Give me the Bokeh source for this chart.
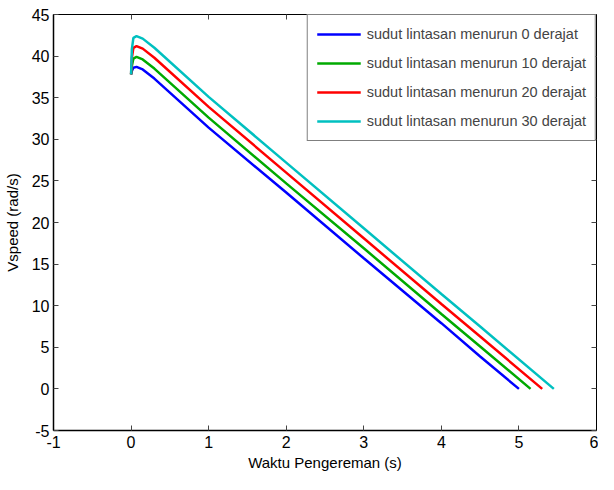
from bokeh.plotting import figure
from bokeh.embed import file_html
from bokeh.resources import INLINE
from bokeh.models import LinearAxis, FixedTicker, Legend, LegendItem, Range1d

# ---- data ----
t_0 = [0, 0.01, 0.03, 0.07, 0.15, 0.3, 1, 2, 3, 4, 4.5, 5.0]
v_0 = [37.8, 38.2, 38.6, 38.7, 38.4, 37.3, 31.4, 23.6, 15.7, 7.9, 3.9, 0]
t_10 = [0, 0.01, 0.03, 0.07, 0.15, 0.3, 1, 2, 3, 4, 4.5, 5.15]
v_10 = [37.8, 38.8, 39.7, 39.9, 39.6, 38.5, 32.6, 24.7, 16.9, 9.0, 5.1, 0]
t_20 = [0, 0.01, 0.03, 0.07, 0.15, 0.3, 1, 2, 3, 4, 4.5, 5.3]
v_20 = [37.8, 39.8, 41.0, 41.2, 40.9, 39.8, 33.9, 26.0, 18.1, 10.2, 6.3, 0]
t_30 = [0, 0.01, 0.03, 0.07, 0.15, 0.3, 1, 2, 3, 4, 4.5, 5.45]
v_30 = [37.8, 40.8, 42.2, 42.4, 42.1, 41.0, 35.1, 27.2, 19.3, 11.4, 7.5, 0]

labels = ["sudut lintasan menurun 0 derajat", "sudut lintasan menurun 10 derajat",
          "sudut lintasan menurun 20 derajat", "sudut lintasan menurun 30 derajat"]
colors = ["#0000FF", "#00AA00", "#FF0000", "#00C0C0"]
x_ticks = [-1, 0, 1, 2, 3, 4, 5, 6]
y_ticks = [-5, 0, 5, 10, 15, 20, 25, 30, 35, 40, 45]

FONT = "Liberation Sans"

p = figure(output_backend="svg", toolbar_location=None,
           frame_width=543, frame_height=416,
           x_range=Range1d(-1, 6), y_range=Range1d(-5, 45),
           min_border_left=53, min_border_right=2, min_border_top=14, min_border_bottom=44)
p.xgrid.visible = False
p.ygrid.visible = False
p.outline_line_color = "black"
p.outline_line_width = 1
p.background_fill_color = "white"
p.border_fill_color = "white"

for ax, ticks in ((p.xaxis[0], x_ticks), (p.yaxis[0], y_ticks)):
    ax.ticker = FixedTicker(ticks=ticks)
    ax.major_label_overrides = {t: str(t) for t in ticks}
    ax.major_tick_in = 5
    ax.major_tick_out = 0
    ax.major_tick_line_color = "#444444"
    ax.minor_tick_line_color = None
    ax.major_label_text_font = FONT
    ax.major_label_text_font_size = "16px"
    ax.major_label_text_color = "black"
    ax.axis_label_text_font = FONT
    ax.axis_label_text_font_size = "15px"
    ax.axis_label_text_font_style = "normal"
    ax.axis_label_text_color = "black"
    ax.axis_line_color = "black"
    ax.axis_line_width = 1.5

p.xaxis[0].axis_label = "Waktu Pengereman (s)"
p.yaxis[0].axis_label = "Vspeed (rad/s)"
p.xaxis[0].major_label_standoff = 5
p.xaxis[0].axis_label_standoff = 3
p.yaxis[0].major_label_standoff = 4
p.yaxis[0].axis_label_standoff = 8

for side, ticks in (("above", x_ticks), ("right", y_ticks)):
    ax = LinearAxis(ticker=FixedTicker(ticks=ticks), major_tick_in=5, major_tick_out=0,
                    major_tick_line_color="#444444",
                    minor_tick_line_color=None,
                    major_label_overrides={t: "" for t in ticks},
                    major_label_standoff=0, axis_line_color="black")
    p.add_layout(ax, side)

items = []
for (t, v), c, lab in zip([(t_0, v_0), (t_10, v_10), (t_20, v_20), (t_30, v_30)], colors, labels):
    r = p.line(t, v, line_color=c, line_width=2.5)
    items.append(LegendItem(label=lab, renderers=[r]))

legend = Legend(items=items, location="top_right")
legend.border_line_color = "black"
legend.border_line_width = 1
legend.background_fill_alpha = 1
legend.label_text_font = FONT
legend.label_text_font_size = "14.5px"
legend.glyph_width = 44
legend.glyph_height = 20
legend.label_height = 20
legend.spacing = 9
legend.padding = 9
legend.margin = 0
legend.label_standoff = 6
p.add_layout(legend, "center")

open("out.html", "w").write(file_html(p, INLINE))
